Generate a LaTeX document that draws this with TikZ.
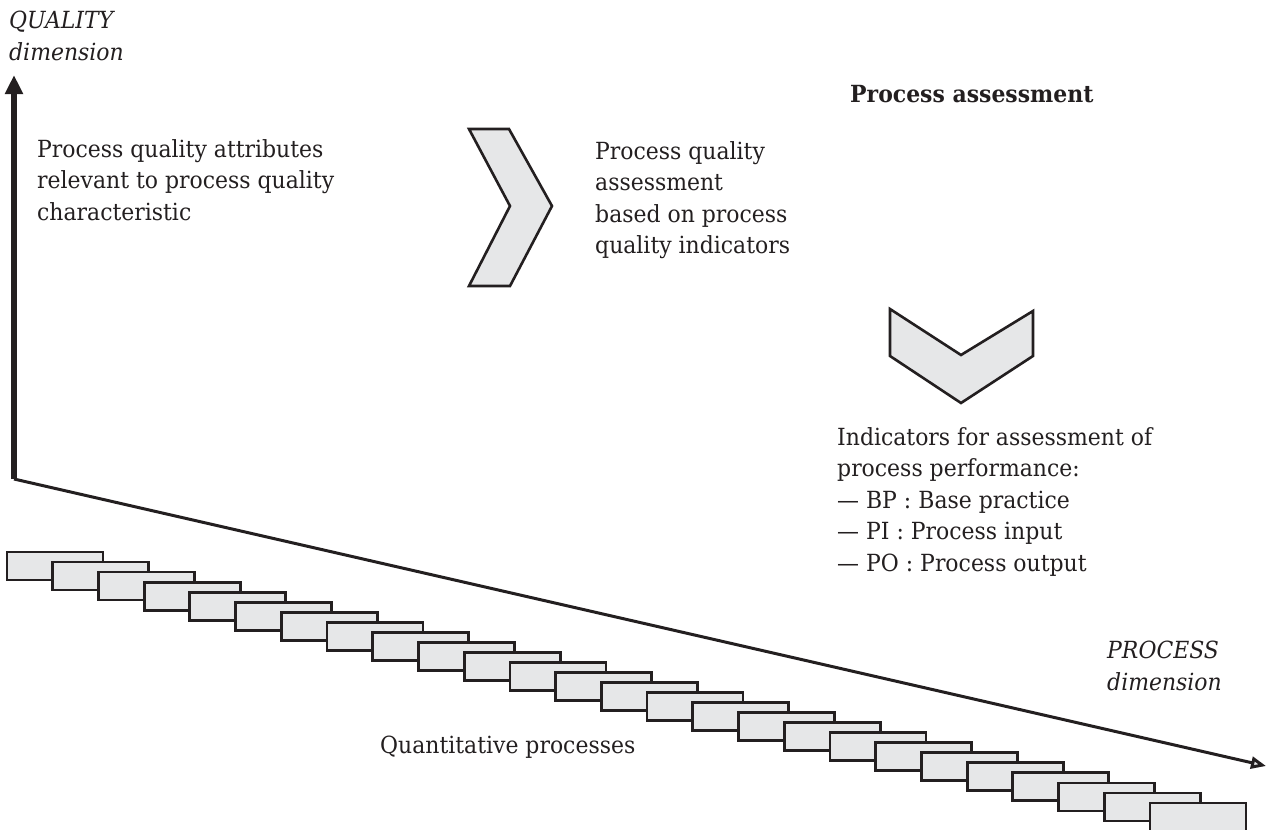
\documentclass[tikz,border=0pt]{standalone}
\usepackage{fontspec}
\setmainfont{DejaVu Serif}[FakeStretch=0.93]
\usetikzlibrary{arrows.meta}
\definecolor{ink}{HTML}{231F20}
\definecolor{panel}{HTML}{E6E7E8}
% left-aligned block of lines whose reference point is the first baseline
\newcommand\linestack[1]{\begin{tabular}[t]{@{}l@{}}#1\end{tabular}}
\begin{document}
\begin{tikzpicture}[x=1pt,y=-1pt,
  label text/.style={anchor=base west, inner sep=0pt, text=ink},
  body/.style={font=\fontsize{23.6}{31.6}\selectfont},
  axis name/.style={font=\fontsize{23.6}{32}\selectfont\itshape},
  heading/.style={font=\fontsize{23.6}{31.6}\selectfont\bfseries},
  chevron/.style={draw=ink, fill=panel, line width=2.6pt, line join=miter},
  procbox/.style={draw=ink, fill=panel, line width=2.8pt},
  ]
\useasboundingbox (0,0) rectangle (1270,830);

% the two axes
\coordinate (origin) at (14,479);
\coordinate (qtop) at (14,75);
\coordinate (ptip) at (1266,766);
\draw[ink, line width=6.5pt, -{Triangle[width=17pt,length=19pt]}] (origin) -- (qtop);
\draw[ink, line width=3pt, -{Triangle[open, fill=panel, width=12pt, length=15pt]}] (origin) -- (ptip);

% staircase of process boxes
\foreach \i in {0,...,25}
  \draw[procbox] ({7+45.72*\i},{552+10.04*\i}) rectangle ++(96,28);

% chevrons
\draw[chevron] (469,129) -- (509,129) -- (552,206) -- (510,286) -- (469,286) -- (510,206) -- cycle;
\draw[chevron] (890,309) -- (961,355) -- (1033,311) -- (1033,356) -- (961,403) -- (890,356) -- cycle;

% labels
\node[label text, axis name] (qlabel) at (9,28) {\linestack{QUALITY\\dimension}};
\node[label text, body] (attr) at (37,157)
  {\linestack{Process quality attributes\\relevant to process quality\\characteristic}};
\node[label text, body] (pqa) at (595,159)
  {\linestack{Process quality\\assessment\\based on process\\quality indicators}};
\node[label text, heading] (title) at (850,102) {Process assessment};
\node[label text, body] (ind) at (837,445)
  {\linestack{Indicators for assessment of\\process performance:\\— BP : Base practice\\— PI : Process input\\— PO : Process output}};
\node[label text, axis name] (plabel) at (1107,658) {\linestack{PROCESS\\dimension}};
\node[label text, body] (quant) at (380,753) {Quantitative processes};
\end{tikzpicture}
\end{document}
